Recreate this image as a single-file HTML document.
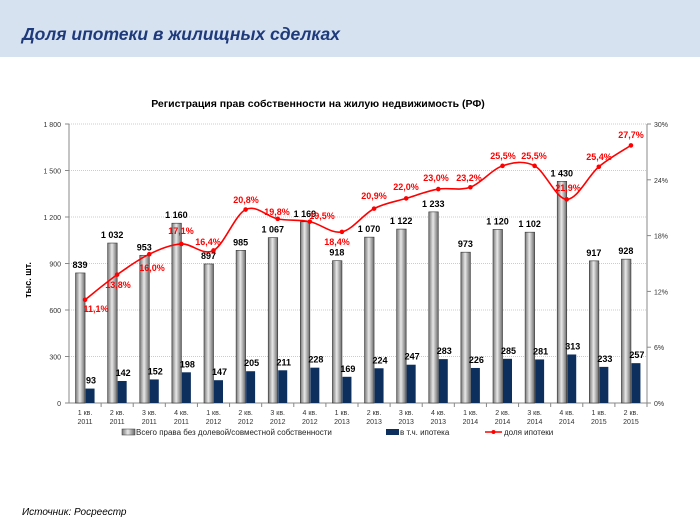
<!DOCTYPE html>
<html><head><meta charset="utf-8"><style>
body{margin:0;width:700px;height:525px;background:#fff;overflow:hidden;font-family:"Liberation Sans",sans-serif}
</style></head><body>
<svg id="s" width="700" height="525" xmlns="http://www.w3.org/2000/svg" font-family="Liberation Sans, sans-serif">
<defs>
<linearGradient id="g" x1="0" x2="1" y1="0" y2="0">
<stop offset="0" stop-color="#777"/><stop offset="0.45" stop-color="#e8e8e8"/><stop offset="1" stop-color="#6a6a6a"/>
</linearGradient>
</defs>
<rect x="0" y="0" width="700" height="57" fill="#d6e2f0"/>
<text x="22" y="40" font-size="17.5" font-weight="bold" font-style="italic" fill="#1f3a7a">Доля ипотеки в жилищных сделках</text>
<text x="318" y="107" font-size="10.5" font-weight="bold" text-anchor="middle" fill="#000">Регистрация прав собственности на жилую недвижимость (РФ)</text>
<text transform="translate(31,280) rotate(-90)" font-size="9" font-weight="bold" text-anchor="middle">тыс. шт.</text>
<g id="c"></g>
<text x="22" y="515" font-size="10" font-style="italic">Источник: Росреестр</text>
</svg>
<script>
var g=document.getElementById('c'),h='';
var X0=69,X1=647,Y0=403,Y1=124,n=18,w=(X1-X0)/n;
var tot=[839,1032,953,1160,897,985,1067,1169,918,1070,1122,1233,973,1120,1102,1430,917,928];
var ip=[93,142,152,198,147,205,211,228,169,224,247,283,226,285,281,313,233,257];
var pc=[11.1,13.8,16.0,17.1,16.4,20.8,19.8,19.5,18.4,20.9,22.0,23.0,23.2,25.5,25.5,21.9,25.4,27.7];
var pl=[[96,312],[118,288],[152,271],[181,234],[208,245],[246,203],[277,215],[322,219],[337,245],[374,199],[406,190],[436,181],[469,181],[503,159],[534,159],[568,191],[599,160],[631,138]];
var qs=['1 кв.','2 кв.','3 кв.','4 кв.'];
for(var i=0;i<=6;i++){var y=Y0-i*(Y0-Y1)/6;
 if(i>0)h+='<line x1="'+X0+'" x2="'+X1+'" y1="'+y+'" y2="'+y+'" stroke="#999" stroke-width="0.6" stroke-dasharray="1,1"/>';
 h+='<line x1="'+(X0-4)+'" x2="'+X0+'" y1="'+y+'" y2="'+y+'" stroke="#888"/>';
 var v=i*300;var s=v>=1000?Math.floor(v/1000)+' '+String(v%1000).padStart(3,'0'):v;
 h+='<text x="'+(X0-8)+'" y="'+(y+3)+'" font-size="7" text-anchor="end" fill="#333">'+s+'</text>';}
for(var i=0;i<=5;i++){var y=Y0-i*(Y0-Y1)/5;
 h+='<line x1="'+X1+'" x2="'+(X1+4)+'" y1="'+y+'" y2="'+y+'" stroke="#888"/>';
 h+='<text x="'+(X1+7)+'" y="'+(y+3)+'" font-size="7" fill="#333">'+(i*6)+'%</text>';}
h+='<line x1="'+X0+'" x2="'+X0+'" y1="'+Y1+'" y2="'+Y0+'" stroke="#888"/>';
h+='<line x1="'+X1+'" x2="'+X1+'" y1="'+Y1+'" y2="'+Y0+'" stroke="#888"/>';
h+='<line x1="'+X0+'" x2="'+X1+'" y1="'+Y0+'" y2="'+Y0+'" stroke="#888"/>';
var k=(Y0-Y1)/1800,pts=[];
for(var i=0;i<n;i++){var cx=X0+w*(i+0.5);
 h+='<line x1="'+(X0+w*(i+1))+'" x2="'+(X0+w*(i+1))+'" y1="'+Y0+'" y2="'+(Y0+4)+'" stroke="#888"/>';
 var ht=tot[i]*k;h+='<rect x="'+(cx-9.5)+'" y="'+(Y0-ht)+'" width="9.5" height="'+ht+'" fill="url(#g)" stroke="#333" stroke-width="0.6"/>';
 var hi=ip[i]*k;h+='<rect x="'+(cx+0.5)+'" y="'+(Y0-hi)+'" width="9" height="'+hi+'" fill="#0d2f5e"/>';
 var s=tot[i]>=1000?Math.floor(tot[i]/1000)+' '+String(tot[i]%1000).padStart(3,'0'):tot[i];
 h+='<text x="'+(cx-5)+'" y="'+(Y0-ht-5)+'" font-size="9" font-weight="bold" text-anchor="middle">'+s+'</text>';
 h+='<text x="'+(cx+6)+'" y="'+(Y0-hi-5)+'" font-size="9" font-weight="bold" text-anchor="middle">'+ip[i]+'</text>';
 h+='<text x="'+cx+'" y="'+(Y0+12)+'" font-size="7" text-anchor="middle" fill="#333">'+qs[i%4]+'</text>';
 h+='<text x="'+cx+'" y="'+(Y0+21)+'" font-size="7" text-anchor="middle" fill="#333">'+(2011+Math.floor(i/4))+'</text>';
 pts.push([cx,Y0-pc[i]/30*(Y0-Y1)]);}
var d='M'+pts[0][0]+','+pts[0][1];
for(var i=0;i<n-1;i++){var p0=pts[Math.max(i-1,0)],p1=pts[i],p2=pts[i+1],p3=pts[Math.min(i+2,n-1)];
 d+=' C'+(p1[0]+(p2[0]-p0[0])/6)+','+(p1[1]+(p2[1]-p0[1])/6)+' '+(p2[0]-(p3[0]-p1[0])/6)+','+(p2[1]-(p3[1]-p1[1])/6)+' '+p2[0]+','+p2[1];}
h+='<path d="'+d+'" fill="none" stroke="#f00" stroke-width="1.6"/>';
for(var i=0;i<n;i++){h+='<circle cx="'+pts[i][0]+'" cy="'+pts[i][1]+'" r="2.3" fill="#f00"/>';
 h+='<text x="'+pl[i][0]+'" y="'+pl[i][1]+'" font-size="9" font-weight="bold" fill="#f00" text-anchor="middle">'+pc[i].toFixed(1).replace('.',',')+'%</text>';}
h+='<rect x="122" y="429" width="13" height="6" fill="url(#g)" stroke="#333" stroke-width="0.5"/>';
h+='<text x="136" y="435" font-size="8" fill="#222">Всего права без долевой/совместной собственности</text>';
h+='<rect x="386" y="429" width="13" height="6" fill="#0d2f5e"/>';
h+='<text x="400" y="435" font-size="8" fill="#222">в т.ч. ипотека</text>';
h+='<line x1="485" x2="502" y1="432" y2="432" stroke="#f00" stroke-width="1.5"/><circle cx="493.5" cy="432" r="2" fill="#f00"/>';
h+='<text x="504" y="435" font-size="8" fill="#222">доля ипотеки</text>';
g.innerHTML=h;
</script>
</body></html>
